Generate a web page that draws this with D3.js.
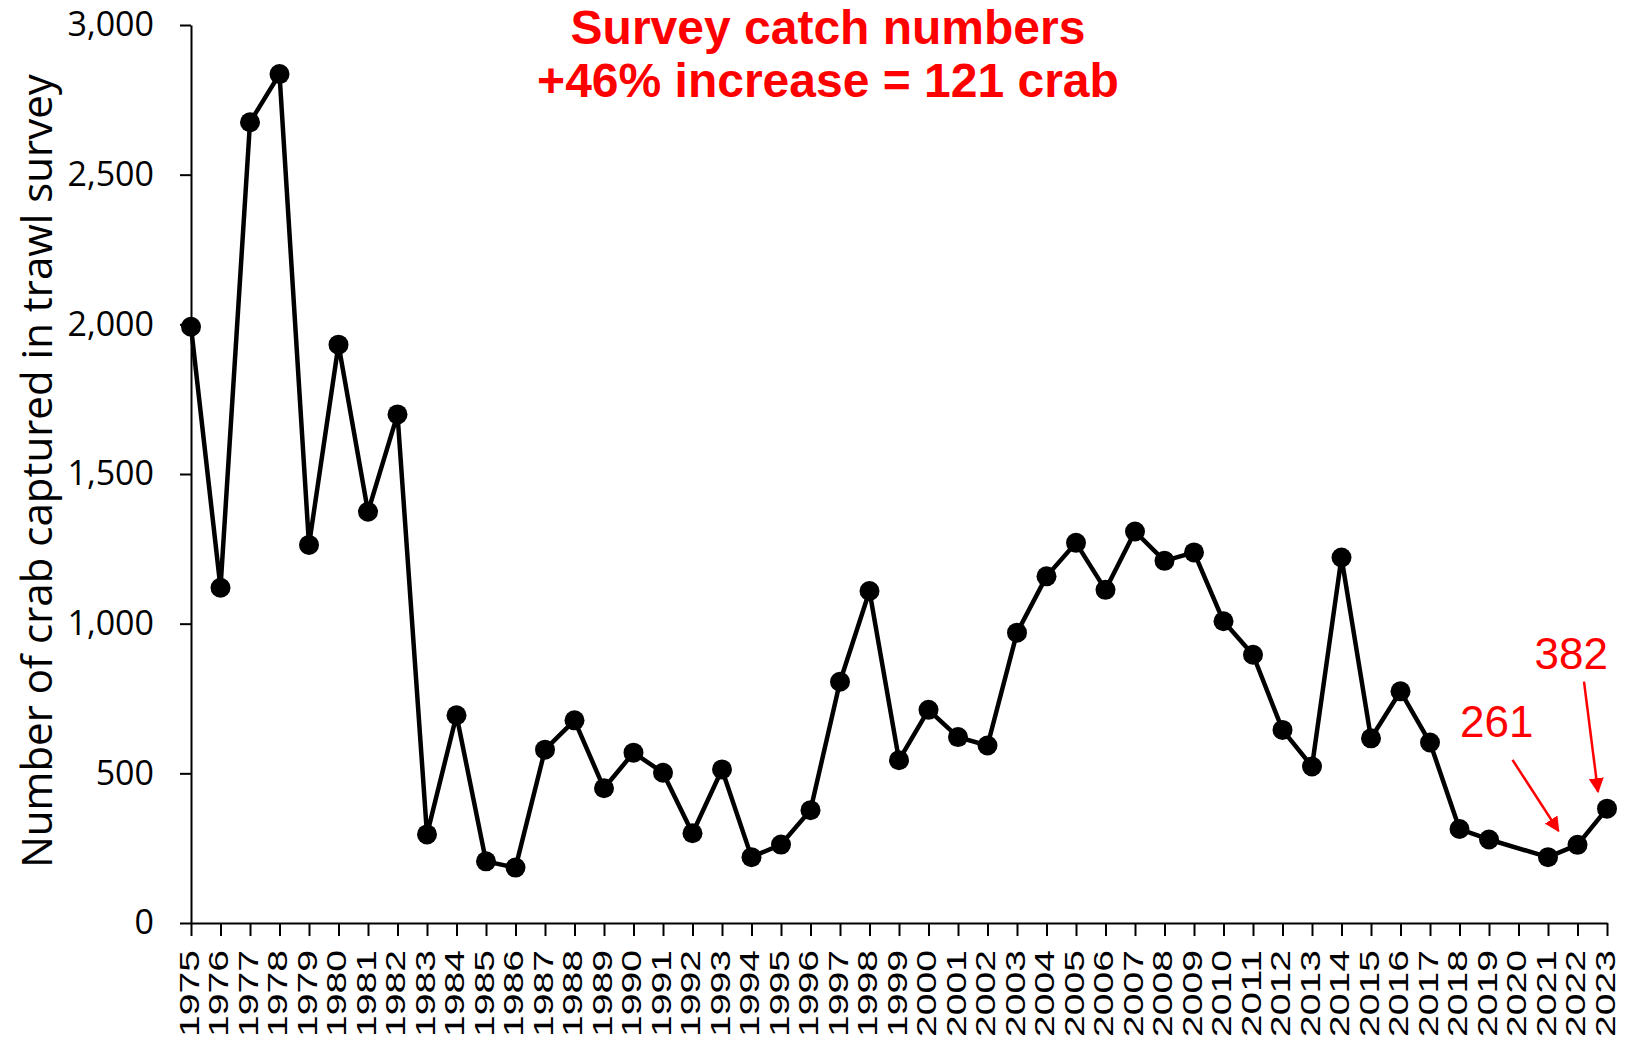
<!DOCTYPE html>
<html>
<head>
<meta charset="utf-8">
<script src="https://cdn.jsdelivr.net/npm/d3@7"></script>
<style>
  body { margin: 0; background: #fff; }
  .axis path, .axis line { stroke: #000; stroke-width: 2px; }
  .yaxis text { font-family: "Open Sans", sans-serif; font-size: 34px; fill: #000; }
  .xaxis text { font-family: "Liberation Sans", Arial, sans-serif; font-size: 28px; fill: #000; }
</style>
</head>
<body>
<div id="chart"></div>
<script>
var years = ["1975","1976","1977","1978","1979","1980","1981","1982","1983","1984",
             "1985","1986","1987","1988","1989","1990","1991","1992","1993","1994",
             "1995","1996","1997","1998","1999","2000","2001","2002","2003","2004",
             "2005","2006","2007","2008","2009","2010","2011","2012","2013","2014",
             "2015","2016","2017","2018","2019","2020","2021","2022","2023"];

// no survey in 2020
var catches = [1992, 1120, 2675, 2836, 1263, 1932, 1374, 1699, 296, 694,
               206, 185, 579, 677, 450, 569, 502, 300, 513, 220,
               262, 377, 806, 1109, 544, 712, 621, 593, 970, 1158,
               1270, 1113, 1308, 1210, 1238, 1008, 896, 645, 523, 1221,
               617, 774, 603, 314, 279, null, 220, 261, 382];

var yTicks = [0, 500, 1000, 1500, 2000, 2500, 3000];

var titleLines = ["Survey catch numbers", "+46% increase = 121 crab"];
var yTitle = "Number of crab captured in trawl survey";

function init(){
    var w = 1636;
    var h = 1039;
    var left = 191, right = 1607, top = 25, bottom = 923;

    var svg = d3.select("#chart")
      .append("svg")
      .attr("width", w)
      .attr("height", h);

    var dataset = years.map(function(y, i){ return {year: y, value: catches[i]}; });
    var points = dataset.filter(function(d){ return d.value != null; });

    var xScale = d3.scalePoint().domain(years).range([left, right]);
    var yScale = d3.scaleLinear().domain([0, 3000]).range([bottom, top]);

    // y axis
    var yAxis = d3.axisLeft(yScale)
      .tickValues(yTicks)
      .tickFormat(d3.format(","))
      .tickSize(11)
      .tickSizeOuter(0)
      .tickPadding(26);

    svg.append("g")
      .attr("class", "axis yaxis")
      .attr("transform", "translate(" + left + ",0)")
      .call(yAxis);

    // x axis
    var xAxis = d3.axisBottom(xScale).tickSize(13).tickSizeOuter(0);

    svg.append("g")
      .attr("class", "axis xaxis")
      .attr("transform", "translate(0," + bottom + ")")
      .call(xAxis)
      .selectAll("text")
        .attr("x", 0)
        .attr("y", 0)
        .attr("dy", null)
        .attr("text-anchor", "end")
        .attr("transform", "translate(7,27) rotate(-90)")
        .attr("textLength", 87)
        .attr("lengthAdjust", "spacingAndGlyphs");

    // line + markers
    var line = d3.line()
      .x(function(d){ return xScale(d.year); })
      .y(function(d){ return yScale(d.value); });

    svg.append("path")
      .datum(points)
      .attr("fill", "none")
      .attr("stroke", "#000")
      .attr("stroke-width", 4.5)
      .attr("stroke-linejoin", "round")
      .attr("d", line);

    svg.selectAll(".dot")
      .data(points)
      .enter().append("circle")
      .attr("class", "dot")
      .attr("cx", function(d){ return xScale(d.year); })
      .attr("cy", function(d){ return yScale(d.value); })
      .attr("r", 10)
      .attr("fill", "#000");

    // y title
    svg.append("text")
      .attr("transform", "translate(52,471) rotate(-90)")
      .attr("text-anchor", "middle")
      .style("font-family", "'Open Sans', sans-serif")
      .style("font-size", "42px")
      .text(yTitle);

    // title
    svg.selectAll(".title")
      .data(titleLines)
      .enter().append("text")
      .attr("class", "title")
      .attr("x", 828)
      .attr("y", function(d, i){ return 44 + i * 53; })
      .attr("text-anchor", "middle")
      .style("font-family", "'Liberation Sans', Arial, sans-serif")
      .style("font-weight", "bold")
      .style("font-size", "48px")
      .style("fill", "#ff0000")
      .text(function(d){ return d; });

    annotate();

    function annotate(){
        var defs = svg.append("defs");
        defs.append("marker")
          .attr("id", "arrow")
          .attr("viewBox", "0 0 10 10")
          .attr("refX", 9).attr("refY", 5)
          .attr("markerWidth", 6).attr("markerHeight", 6)
          .attr("markerUnits", "strokeWidth")
          .attr("orient", "auto")
          .append("path")
          .attr("d", "M0,0 L10,5 L0,10 z")
          .attr("fill", "#ff0000");

        var i22 = years.indexOf("2022"), i23 = years.indexOf("2023");
        var x22 = xScale("2022"), y22 = yScale(catches[i22]);
        var x23 = xScale("2023"), y23 = yScale(catches[i23]);

        var notes = [
          {label: catches[i22], tx: x22 - 44, ty: y22 - 108, x1: x22 - 65, y1: y22 - 85, x2: x22 - 19, y2: y22 - 14},
          {label: catches[i23], tx: x23 + 1, ty: y23 - 140, x1: x23 - 23, y1: y23 - 127, x2: x23 - 9, y2: y23 - 17}
        ];

        notes.forEach(function(n){
            svg.append("text")
              .attr("x", n.tx).attr("y", n.ty)
              .attr("text-anchor", "end")
              .style("font-family", "'Liberation Sans', Arial, sans-serif")
              .style("font-size", "44px")
              .style("fill", "#ff0000")
              .text(n.label);
            svg.append("line")
              .attr("x1", n.x1).attr("y1", n.y1)
              .attr("x2", n.x2).attr("y2", n.y2)
              .attr("stroke", "#ff0000")
              .attr("stroke-width", 2.5)
              .attr("marker-end", "url(#arrow)");
        });
    }
}

window.onload = init;
</script>
</body>
</html>
